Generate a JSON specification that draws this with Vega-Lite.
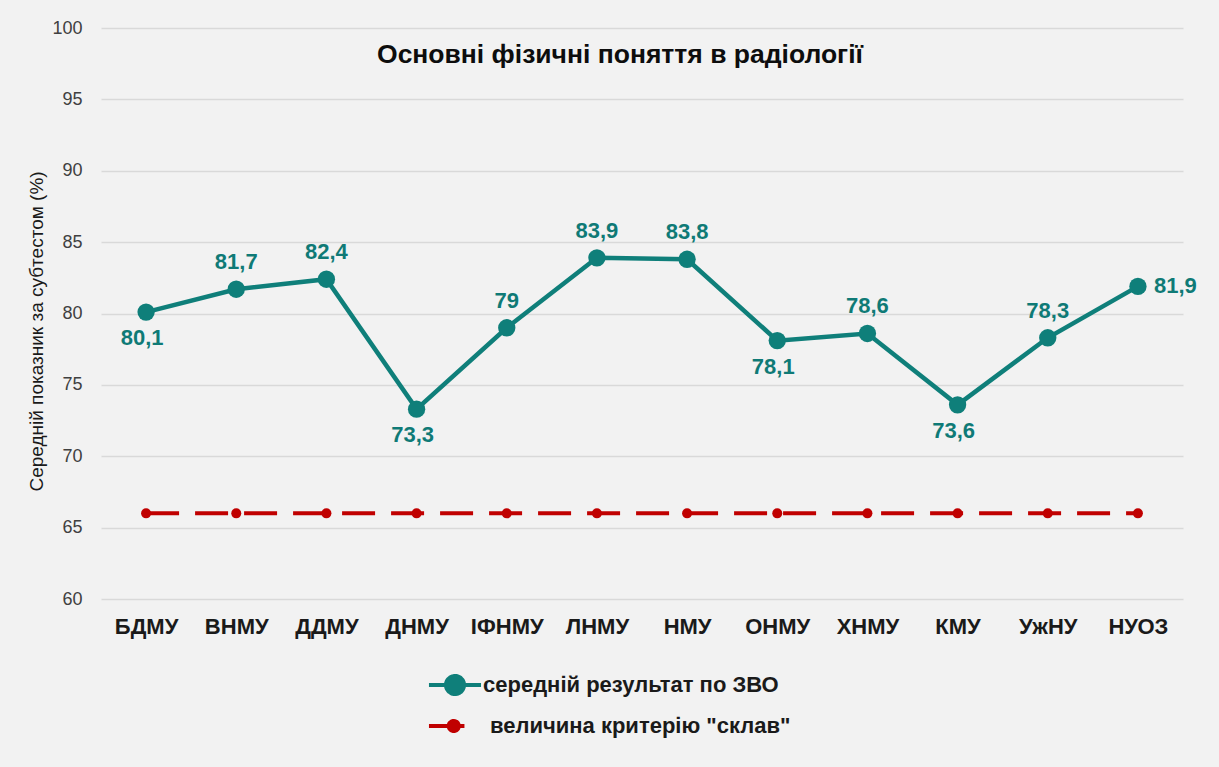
{
  "$schema": "https://vega.github.io/schema/vega-lite/v6.json",
  "autosize": {"type": "none"},
  "width": 1082,
  "height": 571,
  "padding": {"left": 101, "top": 28, "right": 36, "bottom": 168},
  "background": "#f2f2f2",
  "config": {
    "view": {"stroke": null},
    "font": "Liberation Sans",
    "locale": {"number": {"decimal": ",", "thousands": " ", "grouping": [3], "currency": ["", " ₴"]}}
  },
  "title": {
    "text": "Основні фізичні поняття в радіології",
    "fontSize": 26.5,
    "fontWeight": "bold",
    "color": "#0d0d0d",
    "font": "Liberation Sans",
    "anchor": "middle",
    "offset": -49,
    "dx": -22
  },
  "data": {
    "values": [
      {"vnz": "БДМУ", "series": "середній результат по ЗВО", "value": 80.1},
      {"vnz": "ВНМУ", "series": "середній результат по ЗВО", "value": 81.7},
      {"vnz": "ДДМУ", "series": "середній результат по ЗВО", "value": 82.4},
      {"vnz": "ДНМУ", "series": "середній результат по ЗВО", "value": 73.3},
      {"vnz": "ІФНМУ", "series": "середній результат по ЗВО", "value": 79},
      {"vnz": "ЛНМУ", "series": "середній результат по ЗВО", "value": 83.9},
      {"vnz": "НМУ", "series": "середній результат по ЗВО", "value": 83.8},
      {"vnz": "ОНМУ", "series": "середній результат по ЗВО", "value": 78.1},
      {"vnz": "ХНМУ", "series": "середній результат по ЗВО", "value": 78.6},
      {"vnz": "КМУ", "series": "середній результат по ЗВО", "value": 73.6},
      {"vnz": "УжНУ", "series": "середній результат по ЗВО", "value": 78.3},
      {"vnz": "НУОЗ", "series": "середній результат по ЗВО", "value": 81.9},
      {"vnz": "БДМУ", "series": "величина критерію \"склав\"", "value": 66},
      {"vnz": "ВНМУ", "series": "величина критерію \"склав\"", "value": 66},
      {"vnz": "ДДМУ", "series": "величина критерію \"склав\"", "value": 66},
      {"vnz": "ДНМУ", "series": "величина критерію \"склав\"", "value": 66},
      {"vnz": "ІФНМУ", "series": "величина критерію \"склав\"", "value": 66},
      {"vnz": "ЛНМУ", "series": "величина критерію \"склав\"", "value": 66},
      {"vnz": "НМУ", "series": "величина критерію \"склав\"", "value": 66},
      {"vnz": "ОНМУ", "series": "величина критерію \"склав\"", "value": 66},
      {"vnz": "ХНМУ", "series": "величина критерію \"склав\"", "value": 66},
      {"vnz": "КМУ", "series": "величина критерію \"склав\"", "value": 66},
      {"vnz": "УжНУ", "series": "величина критерію \"склав\"", "value": 66},
      {"vnz": "НУОЗ", "series": "величина критерію \"склав\"", "value": 66}
    ]
  },
  "encoding": {
    "x": {
      "field": "vnz",
      "type": "nominal",
      "sort": null,
      "scale": {"type": "point", "padding": 0.5},
      "axis": {
        "title": null,
        "labelAngle": 0,
        "labelFontSize": 22,
        "labelFontWeight": "bold",
        "labelColor": "#1a1a1a",
        "labelPadding": 17,
        "domain": false,
        "ticks": false,
        "grid": false
      }
    },
    "y": {
      "field": "value",
      "type": "quantitative",
      "scale": {"domain": [60, 100], "nice": false, "zero": false},
      "axis": {
        "title": "Середній показник за субтестом (%)",
        "titleFontSize": 19,
        "titleFontWeight": "normal",
        "titleColor": "#1a1a1a",
        "titlePadding": 5,
        "titleY": 303,
        "labelFontSize": 18,
        "labelColor": "#404040",
        "labelPadding": 19,
        "values": [60, 65, 70, 75, 80, 85, 90, 95, 100],
        "domain": false,
        "ticks": false,
        "gridColor": "#d9d9d9",
        "gridWidth": 1.5
      }
    }
  },
  "layer": [
    {
      "transform": [{"filter": "datum.series !== 'середній результат по ЗВО'"}],
      "mark": {"type": "line", "strokeWidth": 4, "strokeDash": [33, 16], "strokeCap": "butt"},
      "encoding": {
        "color": {
          "field": "series",
          "type": "nominal",
          "scale": {"domain": ["середній результат по ЗВО", "величина критерію \"склав\""], "range": ["#0f7f7a", "#c00000"]},
          "legend": {
            "orient": "none",
            "legendX": 331,
            "legendY": 634,
            "title": null,
            "padding": 0,
            "labelFontSize": 22,
            "labelFont": "Liberation Sans",
            "labelFontWeight": "bold",
            "labelColor": "#1a1a1a",
            "labelLimit": 600,
            "labelOffset": 5,
            "rowPadding": 0,
            "symbolSize": 1764,
            "symbolStrokeWidth": 4,
            "symbolDash": [1, 0],
            "encode": {
              "labels": {
                "update": {
                  "dx": {"signal": "datum.value === 'середній результат по ЗВО' ? 0 : 7"}
                }
              },
              "symbols": {
                "update": {
                  "shape": {"signal": "datum.value === 'середній результат по ЗВО' ? 'M-1.24,0L1.24,0M-0.43,0A0.43,0.43,0,1,0,0.43,0A0.43,0.43,0,1,0,-0.43,0' : 'M-1.24,0L0.45,0M-0.3,0A0.24,0.24,0,1,0,0.18,0A0.24,0.24,0,1,0,-0.3,0'"},
                  "fill": {"scale": "color", "field": "value"},
                  "stroke": {"scale": "color", "field": "value"},
                  "strokeDash": {"value": [1, 0]},
                  "opacity": {"value": 1}
                }
              }
            }
          }
        }
      }
    },
    {
      "transform": [{"filter": "datum.series === 'середній результат по ЗВО'"}],
      "mark": {"type": "line", "strokeWidth": 4.5},
      "encoding": {
        "color": {"field": "series", "type": "nominal"}
      }
    },
    {
      "transform": [{"filter": "datum.series !== 'середній результат по ЗВО'"}],
      "mark": {"type": "point", "filled": true, "size": 100, "color": "#c00000", "opacity": 1}
    },
    {
      "transform": [{"filter": "datum.series === 'середній результат по ЗВО'"}],
      "mark": {"type": "point", "filled": true, "size": 300, "color": "#0f7f7a", "opacity": 1}
    },
    {
      "transform": [
        {"filter": "datum.series === 'середній результат по ЗВО'"},
        {"filter": {"field": "vnz", "oneOf": ["ВНМУ", "ДДМУ", "ІФНМУ", "ЛНМУ", "НМУ", "ХНМУ", "УжНУ"]}}
      ],
      "mark": {"type": "text", "fontSize": 22, "fontWeight": "bold", "color": "#0f7a76", "dy": -27},
      "encoding": {"text": {"field": "value", "type": "quantitative", "format": ".1~f"}}
    },
    {
      "transform": [
        {"filter": "datum.series === 'середній результат по ЗВО'"},
        {"filter": {"field": "vnz", "oneOf": ["БДМУ", "ДНМУ", "ОНМУ", "КМУ"]}}
      ],
      "mark": {"type": "text", "fontSize": 22, "fontWeight": "bold", "color": "#0f7a76", "dy": 26, "dx": -4},
      "encoding": {"text": {"field": "value", "type": "quantitative", "format": ".1~f"}}
    },
    {
      "transform": [
        {"filter": "datum.series === 'середній результат по ЗВО'"},
        {"filter": {"field": "vnz", "equal": "НУОЗ"}}
      ],
      "mark": {"type": "text", "fontSize": 22, "fontWeight": "bold", "color": "#0f7a76", "align": "left", "dx": 16},
      "encoding": {"text": {"field": "value", "type": "quantitative", "format": ".1~f"}}
    }
  ]
}
